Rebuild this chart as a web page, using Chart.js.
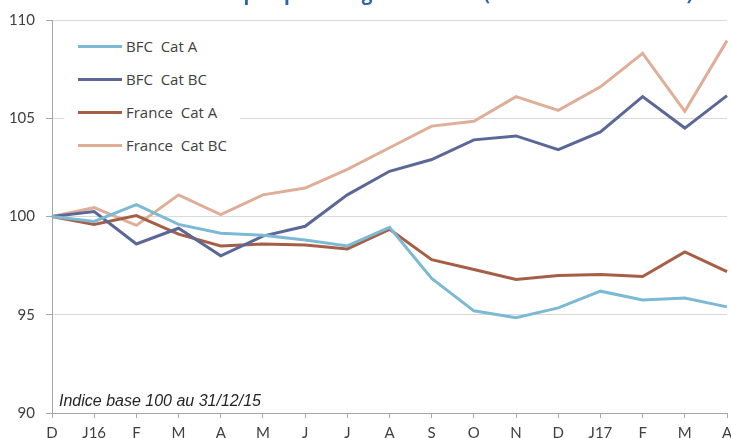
<!DOCTYPE html>
<html>
<head>
<meta charset="utf-8">
<script src="https://cdn.jsdelivr.net/npm/chart.js@4/dist/chart.umd.min.js"></script>
<style>
  html, body { margin: 0; padding: 0; width: 731px; height: 438px; overflow: hidden; background: #fff; }
  #wrap { position: relative; width: 731px; height: 450px; }
  #legend { position: absolute; left: 64px; top: 28px; width: 176px; height: 134px; background: #fff; }
  .item { position: absolute; left: 0; height: 20px; font: 15px "Open Sans", sans-serif; color: #404040; white-space: pre; }
  .item span.sw { position: absolute; left: 14px; top: 9px; width: 44px; height: 3px; }
  .item span.tx { position: absolute; left: 62px; top: 0; line-height: 20px; }
  #note { position: absolute; left: 59px; top: 392px; font: italic 16px "Liberation Sans", Arial, sans-serif; color: #262626; }
</style>
</head>
<body>
<div id="wrap">
  <canvas id="chart" width="731" height="450"></canvas>
  <div id="legend"></div>
  <div id="note">Indice base 100 au 31/12/15</div>
</div>
<script>
// Données (indice base 100)
const months = ['D', 'J16', 'F', 'M', 'A', 'M', 'J', 'J', 'A', 'S', 'O', 'N', 'D', 'J17', 'F', 'M', 'A'];
const bfcCatA = [100, 99.75, 100.6, 99.6, 99.15, 99.05, 98.8, 98.5, 99.45, 96.85, 95.2, 94.85, 95.35, 96.2, 95.75, 95.85, 95.4];
const bfcCatBC = [100, 100.25, 98.6, 99.4, 98.0, 99.0, 99.5, 101.1, 102.3, 102.9, 103.9, 104.1, 103.4, 104.3, 106.1, 104.5, 106.15];
const franceCatA = [100, 99.6, 100.05, 99.1, 98.5, 98.6, 98.55, 98.35, 99.35, 97.8, 97.3, 96.8, 97.0, 97.05, 96.95, 98.2, 97.2];
const franceCatBC = [100, 100.45, 99.55, 101.1, 100.1, 101.1, 101.45, 102.4, 103.5, 104.6, 104.85, 106.1, 105.4, 106.6, 108.3, 105.35, 108.95];
const seriesNames = ['BFC  Cat A', 'BFC  Cat BC', 'France  Cat A', 'France  Cat BC'];
const seriesColors = ['#7cb9d3', '#5b6797', '#a65f47', '#dfae98'];
const titleText = "Demandeurs d'emploi par catégorie en BFC (base 100 au 31/12/15)";

// Titre (coupé en haut de l'image)
const titlePlugin = {
    id: 'topTitle',
    afterDraw(chart) {
        const ctx = chart.ctx;
        ctx.save();
        ctx.font = 'bold 19px "Open Sans", sans-serif';
        ctx.fillStyle = '#2f62ad';
        ctx.textAlign = 'left';
        ctx.textBaseline = 'alphabetic';
        ctx.fillText(titleText, 70, 0);
        ctx.restore();
    }
};

const values = [bfcCatA, bfcCatBC, franceCatA, franceCatBC];
const tickFont = { family: 'Lato, "Open Sans", sans-serif', size: 15 };

new Chart(document.getElementById('chart'), {
    type: 'line',
    data: {
        labels: months,
        datasets: values.map((v, i) => ({
            label: seriesNames[i],
            data: v,
            borderColor: seriesColors[i],
            backgroundColor: seriesColors[i],
            borderWidth: 3,
            pointRadius: 0,
            tension: 0,
            fill: false
        }))
    },
    options: {
        responsive: false,
        animation: false,
        devicePixelRatio: 1,
        layout: { padding: { top: 17, right: 4, left: 0, bottom: 0 } },
        plugins: {
            legend: { display: false },
            tooltip: { enabled: false }
        },
        scales: {
            x: {
                offset: false,
                grid: { drawOnChartArea: false, drawTicks: true, tickLength: 5, tickColor: '#a6a6a6' },
                border: { color: '#a6a6a6', width: 1 },
                ticks: {
                    autoSkip: false, maxRotation: 0, padding: 6,
                    font: tickFont, color: '#404040'
                },
                afterFit(scale) {
                    scale.height = 37;
                    scale.paddingLeft = 0;
                    scale.paddingRight = 4;
                }
            },
            y: {
                min: 90, max: 110,
                grid: { color: '#d9d9d9', tickLength: 6, tickColor: '#a6a6a6' },
                border: { color: '#a6a6a6', width: 1 },
                ticks: {
                    stepSize: 5, padding: 11,
                    font: tickFont, color: '#404040'
                },
                afterFit(scale) { scale.width = 52; }
            }
        }
    },
    plugins: [titlePlugin]
});

// Légende HTML dans la zone du graphique
const legend = document.getElementById('legend');
seriesNames.forEach((name, i) => {
    const item = document.createElement('div');
    item.className = 'item';
    item.style.top = (8 + i * 33) + 'px';
    item.innerHTML = '<span class="sw" style="background:' + seriesColors[i] + '"></span><span class="tx"></span>';
    item.querySelector('.tx').textContent = name;
    legend.appendChild(item);
});
</script>
</body>
</html>
